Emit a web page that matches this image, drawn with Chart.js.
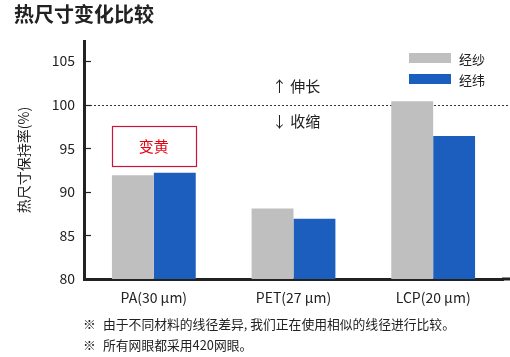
<!DOCTYPE html>
<html>
<head>
<meta charset="utf-8">
<script src="https://cdn.jsdelivr.net/npm/chart.js@4/dist/chart.umd.min.js"></script>
<style>
  html, body { margin:0; padding:0; background:#fff; }
  body { width:510px; height:357px; position:relative; overflow:hidden;
         font-family:'Noto Sans CJK SC','Noto Sans',sans-serif; color:#222; }
  #wrap { position:absolute; left:0; top:0; width:510px; height:357px; }
  #title { position:absolute; left:14px; top:2px; font-size:20px; font-weight:bold; line-height:24px; white-space:nowrap; }
  .legend-item { position:absolute; left:409px; height:20px; display:flex; align-items:center; font-size:13px; white-space:nowrap; }
  .legend-item .sw { width:42px; height:10px; margin-right:8px; }
  .note { position:absolute; left:83px; font-size:12.8px; line-height:20px; white-space:nowrap; display:flex; }
  .note .mark { width:20px; }
</style>
</head>
<body>
<div id="wrap"><canvas id="c" width="510" height="357"></canvas></div>
<div id="title"></div>
<div id="legend"></div>
<div id="notes"></div>
<script>
const chartTitle = '热尺寸变化比较';
const categories = ['PA(30 µm)', 'PET(27 µm)', 'LCP(20 µm)'];
const seriesNames = ['经纱', '经纬'];
const warpValues = [91.9, 88.1, 100.4];
const weftValues = [92.2, 86.9, 96.4];
const yTicks = [80, 85, 90, 95, 100, 105];
const yTitle = '热尺寸保持率(%)';
const upText = '↑ 伸长';
const downText = '↓ 收缩';
const yellowText = '变黄';
const notes = ['由于不同材料的线径差异, 我们正在使用相似的线径进行比较。', '所有网眼都采用420网眼。'];

const colors = ['#bfbfbf', '#1b5ebd'];
const FONT = "'Noto Sans CJK SC','Noto Sans',sans-serif";
Chart.defaults.font.family = FONT;
Chart.defaults.color = '#222';

document.getElementById('title').textContent = chartTitle;
const legendEl = document.getElementById('legend');
seriesNames.forEach((n, i) => {
  const d = document.createElement('div');
  d.className = 'legend-item';
  d.style.top = (48 + i * 21) + 'px';
  d.innerHTML = '<span class="sw" style="background:' + colors[i] + '"></span><span></span>';
  d.lastChild.textContent = n;
  legendEl.appendChild(d);
});
const notesEl = document.getElementById('notes');
notes.forEach((t, i) => {
  const d = document.createElement('div');
  d.className = 'note';
  d.style.top = (314 + i * 21) + 'px';
  d.innerHTML = '<span class="mark">※</span><span></span>';
  d.lastChild.textContent = t;
  notesEl.appendChild(d);
});

const overlay = {
  id: 'overlay',
  beforeDatasetsDraw(chart) {
    const { ctx, chartArea: a, scales: { y } } = chart;
    ctx.save();
    const py = Math.round(y.getPixelForValue(100)) + 0.5;
    ctx.strokeStyle = '#333';
    ctx.lineWidth = 1;
    ctx.setLineDash([2, 2]);
    ctx.beginPath();
    ctx.moveTo(a.left + 2, py);
    ctx.lineTo(chart.width, py);
    ctx.stroke();
    ctx.restore();
  },
  afterDraw(chart) {
    const { ctx, chartArea: a, scales: { y } } = chart;
    ctx.save();
    // extend bottom axis line to the right edge
    ctx.fillStyle = '#222';
    ctx.fillRect(a.right - 1, a.bottom - 1.5, chart.width - a.right + 1, 3);
    // inner tick marks
    ctx.strokeStyle = '#222';
    ctx.lineWidth = 1.2;
    yTicks.forEach(v => {
      if (v === yTicks[0]) return;
      const py = Math.round(y.getPixelForValue(v)) + 0.5;
      ctx.beginPath();
      ctx.moveTo(a.left + 1.5, py);
      ctx.lineTo(a.left + 7, py);
      ctx.stroke();
    });
    // up / down annotations
    ctx.fillStyle = '#222';
    ctx.font = '15px ' + FONT;
    ctx.textBaseline = 'middle';
    ctx.textAlign = 'left';
    ctx.fillText(upText, 272, y.getPixelForValue(102.1));
    ctx.fillText(downText, 272, y.getPixelForValue(98.1));
    // yellowing box over first category
    const b0 = chart.getDatasetMeta(0).data[0];
    const b1 = chart.getDatasetMeta(1).data[0];
    const x0 = b0.x - b0.width / 2, x1 = b1.x + b1.width / 2;
    const yTop = y.getPixelForValue(97.5), yBot = y.getPixelForValue(92.9);
    ctx.strokeStyle = '#c8163c';
    ctx.lineWidth = 1.2;
    ctx.strokeRect(Math.round(x0) + 0.5, Math.round(yTop) + 0.5, Math.round(x1 - x0), Math.round(yBot - yTop));
    ctx.fillStyle = '#e60012';
    ctx.textAlign = 'center';
    ctx.fillText(yellowText, (x0 + x1) / 2, (yTop + yBot) / 2);
    ctx.restore();
  }
};

new Chart(document.getElementById('c'), {
  type: 'bar',
  data: {
    labels: categories,
    datasets: [
      { label: seriesNames[0], data: warpValues, backgroundColor: colors[0] },
      { label: seriesNames[1], data: weftValues, backgroundColor: colors[1] }
    ]
  },
  options: {
    responsive: false,
    animation: false,
    events: [],
    layout: { padding: { top: 41, right: 7, left: 0, bottom: 0 } },
    datasets: { bar: { categoryPercentage: 0.6, barPercentage: 1.0 } },
    plugins: { legend: { display: false }, tooltip: { enabled: false }, title: { display: false } },
    scales: {
      x: {
        grid: { display: false },
        border: { display: true, color: '#222', width: 3 },
        ticks: { font: { size: 14 }, color: '#222', padding: 2, maxRotation: 0 },
        afterFit(s) { s.height = 78; }
      },
      y: {
        min: 80,
        max: 107.3,
        grid: { display: true, drawOnChartArea: false, drawTicks: false },
        border: { display: true, color: '#222', width: 3 },
        ticks: { font: { size: 14 }, color: '#222', padding: 9 },
        afterBuildTicks(s) { s.ticks = yTicks.map(v => ({ value: v })); },
        title: { display: true, text: yTitle, font: { size: 14 }, color: '#222', padding: { top: 15, bottom: 0 } },
        afterFit(s) { s.width = 84; }
      }
    }
  },
  plugins: [overlay]
});
</script>
</body>
</html>
